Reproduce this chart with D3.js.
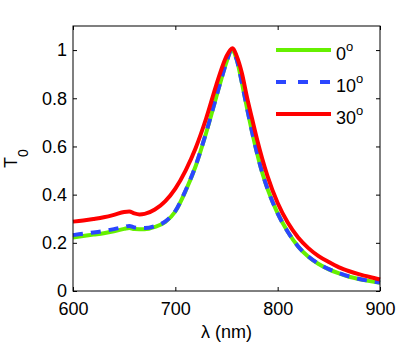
<!DOCTYPE html>
<html>
<head>
<meta charset="utf-8">
<script src="https://cdn.jsdelivr.net/npm/d3@7"></script>
<style>
  body { margin: 0; background: #fff; }
  text { font-family: "Liberation Sans", Arial, Helvetica, sans-serif; }
</style>
</head>
<body>
<script>
// size of the picture
var w = 409;
var h = 349;

// data
var lambda0 = [600, 610, 620, 630, 640, 650, 655, 660, 670, 680, 690, 700, 710, 720, 730, 740, 745, 750, 755, 760, 765, 770, 775, 780, 785, 790, 800, 810, 820, 830, 840, 850, 860, 870, 880, 890, 900];
var t0deg   = [0.222, 0.228, 0.234, 0.240, 0.248, 0.258, 0.262, 0.257, 0.256, 0.266, 0.286, 0.330, 0.415, 0.520, 0.655, 0.805, 0.880, 0.950, 1.000, 0.960, 0.865, 0.760, 0.660, 0.570, 0.490, 0.425, 0.322, 0.245, 0.185, 0.142, 0.112, 0.090, 0.073, 0.059, 0.049, 0.041, 0.034];
var t10deg  = [0.232, 0.238, 0.243, 0.249, 0.257, 0.266, 0.270, 0.264, 0.261, 0.269, 0.288, 0.332, 0.417, 0.522, 0.656, 0.806, 0.881, 0.950, 1.000, 0.960, 0.865, 0.760, 0.660, 0.570, 0.490, 0.425, 0.322, 0.245, 0.185, 0.143, 0.113, 0.091, 0.074, 0.060, 0.050, 0.042, 0.035];
var lambda30 = [600, 610, 620, 630, 640, 650, 655, 660, 665, 670, 680, 690, 700, 710, 720, 730, 740, 745, 750, 756, 760, 765, 770, 775, 780, 785, 790, 800, 810, 820, 830, 840, 850, 860, 870, 880, 890, 900];
var t30deg   = [0.288, 0.293, 0.299, 0.306, 0.316, 0.328, 0.330, 0.322, 0.318, 0.320, 0.338, 0.372, 0.425, 0.500, 0.595, 0.715, 0.855, 0.920, 0.975, 1.008, 0.975, 0.905, 0.805, 0.715, 0.627, 0.548, 0.478, 0.365, 0.283, 0.222, 0.178, 0.145, 0.120, 0.098, 0.082, 0.069, 0.058, 0.048];

var xTicks = [600, 700, 800, 900];
var yTicks = [0, 0.2, 0.4, 0.6, 0.8, 1];
var seriesNames = ["0", "10", "30"];

var colorGreen = "#66f000";
var colorBlue = "#2b46ff";
var colorRed = "#ff0000";

// plot box (px)
var boxLeft = 73, boxRight = 380, boxTop = 26, boxBottom = 291;

var svg = d3.select("body")
  .append("svg")
  .attr("width", w)
  .attr("height", h);

svg.append("rect").attr("width", w).attr("height", h).attr("fill", "#fff");

var x = d3.scaleLinear().domain([600, 900]).range([boxLeft, boxRight]);
var y = d3.scaleLinear().domain([0, 1.1]).range([boxBottom, boxTop]);

var fmt = function(d) { return String(+d.toFixed(1)); };

// axes, ticks pointing inward like matlab
svg.append("g")
  .attr("transform", "translate(0," + boxBottom + ")")
  .call(d3.axisBottom(x).tickValues(xTicks).tickSizeInner(-4).tickSizeOuter(0).tickPadding(11));
svg.append("g")
  .attr("transform", "translate(" + boxLeft + ",0)")
  .call(d3.axisLeft(y).tickValues(yTicks).tickFormat(fmt).tickSizeInner(-4).tickSizeOuter(0).tickPadding(6));
svg.append("g")
  .attr("transform", "translate(0," + boxTop + ")")
  .call(d3.axisTop(x).tickValues(xTicks).tickSizeInner(-4).tickSizeOuter(0).tickFormat(""));
svg.append("g")
  .attr("transform", "translate(" + boxRight + ",0)")
  .call(d3.axisRight(y).tickValues(yTicks).tickSizeInner(-4).tickSizeOuter(0).tickFormat(""));

svg.selectAll(".domain").remove();
svg.selectAll(".tick line").attr("stroke", "#000");
svg.selectAll(".tick text")
  .attr("font-size", "18px")
  .attr("font-family", "'Liberation Sans', Arial, sans-serif")
  .attr("fill", "#000");

// curves
var line = d3.line().curve(d3.curveMonotoneX);

function drawCurve(xs, ys, color, dash) {
  var pts = xs.map(function(d, i) { return [x(d), y(ys[i])]; });
  svg.append("path")
    .attr("d", line(pts))
    .attr("fill", "none")
    .attr("stroke", color)
    .attr("stroke-width", 4)
    .attr("stroke-dasharray", dash)
    .attr("stroke-linejoin", "round");
}

drawCurve(lambda0, t0deg, colorGreen, null);
drawCurve(lambda0, t10deg, colorBlue, "10,8");
drawCurve(lambda30, t30deg, colorRed, null);

// box
svg.append("rect")
  .attr("x", boxLeft).attr("y", boxTop)
  .attr("width", boxRight - boxLeft).attr("height", boxBottom - boxTop)
  .attr("fill", "none")
  .attr("stroke", "#000")
  .attr("stroke-width", 1);

// legend
var legendColors = [colorGreen, colorBlue, colorRed];
var legendDash = [null, "10,12", null];
seriesNames.forEach(function(name, i) {
  var ry = 50 + i * 32;
  svg.append("line")
    .attr("x1", 276).attr("x2", 331)
    .attr("y1", ry).attr("y2", ry)
    .attr("stroke", legendColors[i])
    .attr("stroke-width", 4)
    .attr("stroke-dasharray", legendDash[i]);
  var t = svg.append("text")
    .attr("x", 336).attr("y", ry + 9.5)
    .attr("font-size", "18px")
    .attr("fill", "#000")
    .text(name);
  t.append("tspan")
    .attr("dy", -9)
    .attr("font-size", "13px")
    .text("o");
});

// axis labels
svg.append("text")
  .attr("x", (boxLeft + boxRight) / 2)
  .attr("y", 338)
  .attr("text-anchor", "middle")
  .attr("font-size", "18px")
  .attr("fill", "#000")
  .text("λ (nm)");

var yl = svg.append("text")
  .attr("transform", "translate(17,168) rotate(-90)")
  .attr("font-size", "18px")
  .attr("fill", "#000")
  .text("T");
yl.append("tspan")
  .attr("dy", 11)
  .attr("font-size", "14px")
  .text("0");
</script>
</body>
</html>
